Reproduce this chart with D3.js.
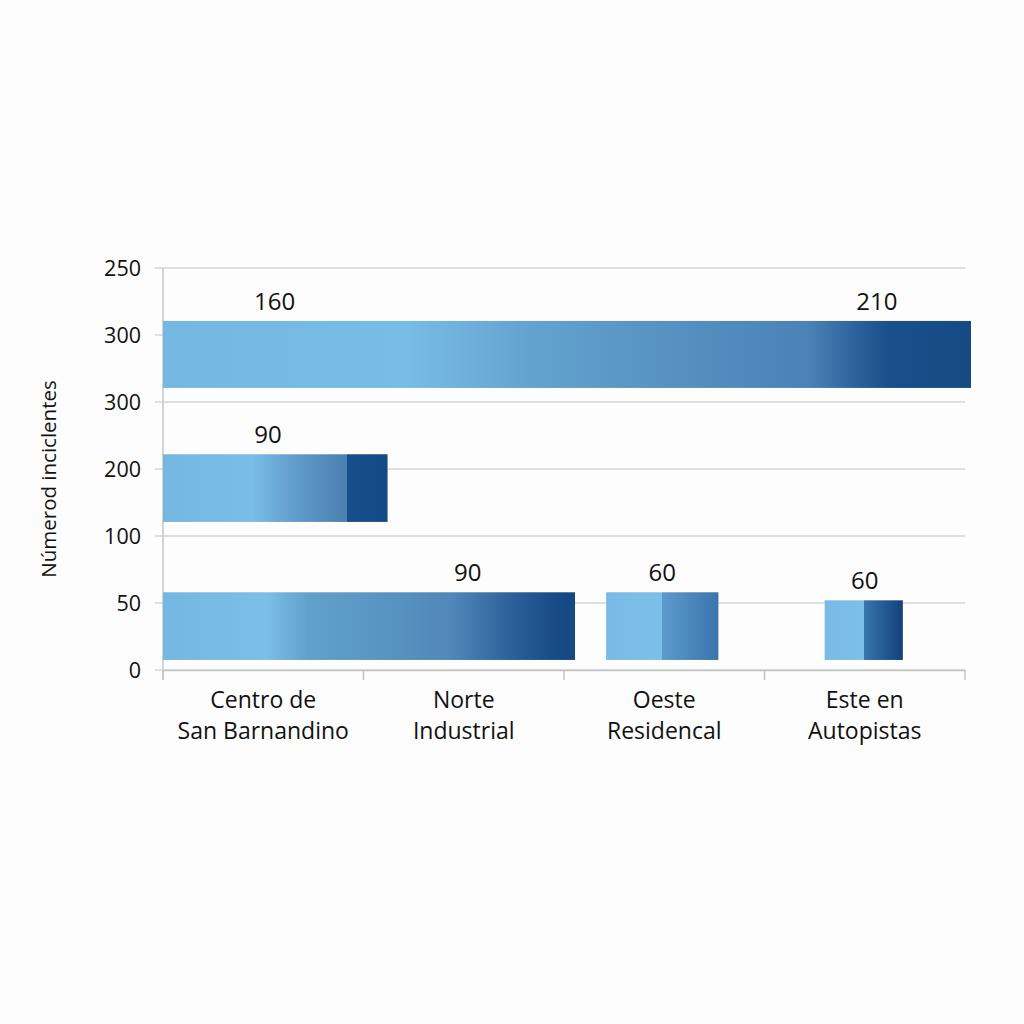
<!DOCTYPE html>
<html>
<head>
<meta charset="utf-8">
<script src="https://cdn.jsdelivr.net/npm/d3@7"></script>
<style>
  body { margin: 0; background: #fdfdfd; }
  svg text { font-family: "Open Sans", "Noto Sans", sans-serif; fill: #111; }
</style>
</head>
<body>
<svg id="chart" width="1024" height="1024"></svg>
<script>
// categories on the x axis (two-line labels)
const categories = ["Centro de\nSan Barnandino", "Norte\nIndustrial", "Oeste\nResidencal", "Este en\nAutopistas"];
// y tick labels, as printed, bottom to top
const yTickLabels = ["0", "50", "100", "200", "300", "300", "250"];
const yTitle = "Númerod inciclentes";

// bars: start / end in category units, bottom / top in tick-step units
const barStart  = [0,    0,    0,    2.21, 3.30];
const barEnd    = [4.03, 1.12, 2.055, 2.77, 3.69];
const barBottom = [4.21, 2.21, 0.15, 0.15, 0.15];
const barTop    = [5.21, 3.22, 1.16, 1.16, 1.04];

// value labels
const labelText = ["160", "210", "90", "90", "60", "60"];
const labelX    = [0.557, 3.56, 0.524, 1.52, 2.49, 3.50];
const labelBar  = [0, 0, 1, 2, 3, 4];

// gradient stops for each bar (offset, colour)
const gradients = [
  [[0, "#74b8e2"], [0.3, "#78bde6"], [0.45, "#64a3d0"], [0.62, "#5792c2"], [0.8, "#4a82b5"], [0.86, "#2a619a"], [0.9, "#184f8a"], [1, "#164a85"]],
  [[0, "#74b8e2"], [0.4, "#79bee6"], [0.6, "#5f9acb"], [0.82, "#4a80b0"], [0.82, "#164f8a"], [1, "#134a85"]],
  [[0, "#74b8e2"], [0.25, "#7bbfe7"], [0.35, "#63a1cd"], [0.5, "#5a97c4"], [0.7, "#5088b9"], [0.85, "#2b5f98"], [0.95, "#184c87"], [1, "#154780"]],
  [[0, "#79bbe6"], [0.5, "#7cbfe8"], [0.5, "#5b9bcb"], [1, "#3c74ac"]],
  [[0, "#79bbe6"], [0.5, "#7cbfe8"], [0.5, "#3a75ae"], [1, "#11417d"]]
];

const svg = d3.select("#chart");
const mLeft = 163, mRight = 965, mTop = 268, mBottom = 670;

const x = d3.scaleLinear().domain([0, categories.length]).range([mLeft, mRight]);
const xBand = d3.scaleBand().domain(categories).range([mLeft, mRight]);
const y = d3.scaleLinear().domain([0, yTickLabels.length - 1]).range([mBottom, mTop]);

// grid lines
svg.append("g")
  .selectAll("line")
  .data(d3.range(yTickLabels.length))
  .join("line")
  .attr("x1", mLeft - 8).attr("x2", mRight)
  .attr("y1", d => y(d)).attr("y2", d => y(d))
  .attr("stroke", "#d4d4d4").attr("stroke-width", 1.5);

// y tick labels
svg.append("g")
  .selectAll("text")
  .data(yTickLabels)
  .join("text")
  .attr("x", mLeft - 22)
  .attr("y", (d, i) => y(i))
  .attr("dy", "0.35em")
  .attr("text-anchor", "end")
  .style("font-size", "21.5px")
  .text(d => d);

// y axis line
svg.append("line")
  .attr("x1", mLeft).attr("x2", mLeft)
  .attr("y1", mTop).attr("y2", mBottom + 10)
  .attr("stroke", "#c4c4c4").attr("stroke-width", 1.5);

// x axis
const xAxis = svg.append("g")
  .attr("transform", "translate(0," + mBottom + ")")
  .call(d3.axisBottom(xBand).tickSize(0).tickFormat(""));
xAxis.select(".domain").attr("stroke", "#c4c4c4").attr("stroke-width", 1.5);
xAxis.selectAll(".tickmark")
  .data(d3.range(categories.length + 1))
  .join("line")
  .attr("class", "tickmark")
  .attr("x1", d => x(d)).attr("x2", d => x(d))
  .attr("y1", 0).attr("y2", 10)
  .attr("stroke", "#c4c4c4").attr("stroke-width", 1.5);

// category labels
const catText = svg.append("g")
  .selectAll("text")
  .data(categories)
  .join("text")
  .attr("x", d => xBand(d) + xBand.bandwidth() / 2)
  .attr("y", 708)
  .attr("text-anchor", "middle")
  .style("font-size", "23px");
catText.selectAll("tspan")
  .data(d => d.split("\n"))
  .join("tspan")
  .attr("x", function() { return this.parentNode.getAttribute("x"); })
  .attr("dy", (d, i) => i === 0 ? 0 : 31)
  .text(d => d);

// y title
svg.append("text")
  .attr("transform", "translate(56,479) rotate(-90)")
  .attr("text-anchor", "middle")
  .style("font-size", "20.5px")
  .text(yTitle);

// gradients
const defs = svg.append("defs");
gradients.forEach((stops, i) => {
  const g = defs.append("linearGradient")
    .attr("id", "grad" + i)
    .attr("x1", "0").attr("x2", "1").attr("y1", "0").attr("y2", "0");
  g.selectAll("stop")
    .data(stops)
    .join("stop")
    .attr("offset", d => d[0])
    .attr("stop-color", d => d[1]);
});

// bars
svg.append("g")
  .selectAll("rect")
  .data(barStart)
  .join("rect")
  .attr("x", (d, i) => x(d))
  .attr("width", (d, i) => x(barEnd[i]) - x(d))
  .attr("y", (d, i) => y(barTop[i]))
  .attr("height", (d, i) => y(barBottom[i]) - y(barTop[i]))
  .attr("fill", (d, i) => "url(#grad" + i + ")");

// value labels
svg.append("g")
  .selectAll("text")
  .data(labelText)
  .join("text")
  .attr("x", (d, i) => x(labelX[i]))
  .attr("y", (d, i) => y(barTop[labelBar[i]]) - 11)
  .attr("text-anchor", "middle")
  .style("font-size", "24px")
  .text(d => d);
</script>
</body>
</html>
